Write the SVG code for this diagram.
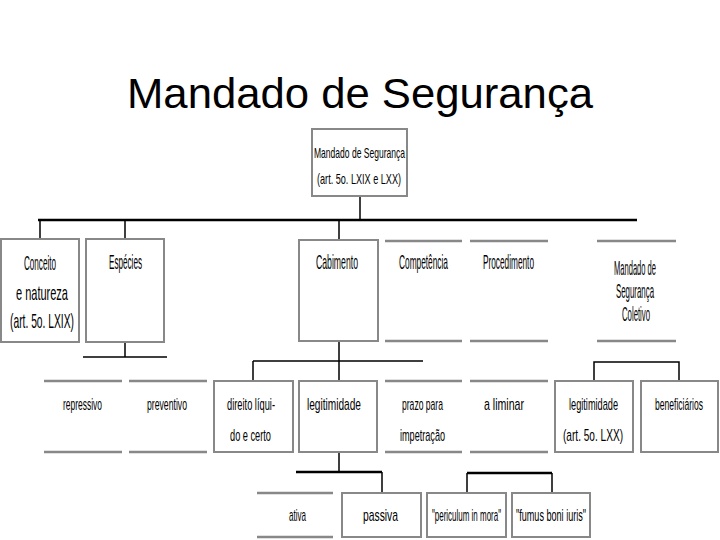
<svg xmlns="http://www.w3.org/2000/svg" width="720" height="540" viewBox="0 0 720 540">
<style>
.bx{fill:#fff;stroke:#888;stroke-width:2}
.ln{stroke:#888;stroke-width:2.5}
.c{stroke:#000;stroke-width:1.5;fill:none}
.ct{stroke:#000;stroke-width:2.5;fill:none}
text{font-family:"Liberation Sans",Arial,sans-serif;fill:#000}
.t0{font-size:15px}
.t1{font-size:21px}
.t2{font-size:17px}
.title{font-size:43px}
</style>
<rect width="720" height="540" fill="#fff"/>
<text class="title" x="127" y="108" textLength="466" lengthAdjust="spacingAndGlyphs">Mandado de Segurança</text>
<g id="connectors">
<path class="c" d="M360 197V220"/>
<path class="ct" d="M38 220H637"/>
<path class="c" d="M40 220V239M125 220V239M339 220V240"/>
<path class="c" d="M125 342V357M83 357H167"/>
<path class="c" d="M339 341V381M253 361H423M253 361V381"/>
<path class="c" d="M594 381V362H679V381"/>
<path class="c" d="M339 452V472M382 472V493"/>
<path class="ct" d="M296 472H382"/>
<path class="c" d="M467 493V473M552 473V493"/>
<path class="ct" d="M467 473H552"/>
</g>
<g id="n-root"><rect class="bx" x="312" y="129" width="95" height="67"/>
<text class="t0" x="314" y="158" textLength="91" lengthAdjust="spacingAndGlyphs">Mandado de Segurança</text>
<text class="t0" x="317" y="184" textLength="84" lengthAdjust="spacingAndGlyphs">(art. 5o. LXIX e LXX)</text></g>
<g id="n-conceito"><rect class="bx" x="1" y="239" width="78" height="103"/>
<text class="t1" x="24" y="270" textLength="32" lengthAdjust="spacingAndGlyphs">Conceito</text>
<text class="t1" x="16" y="300" textLength="52" lengthAdjust="spacingAndGlyphs">e natureza</text>
<text class="t1" x="10" y="328" textLength="64" lengthAdjust="spacingAndGlyphs">(art. 5o. LXIX)</text></g>
<g id="n-especies"><rect class="bx" x="86" y="239" width="78" height="103"/>
<text class="t1" x="109" y="269" textLength="33" lengthAdjust="spacingAndGlyphs">Espécies</text></g>
<g id="n-cabimento"><rect class="bx" x="299" y="240" width="79" height="101"/>
<text class="t1" x="316" y="269" textLength="42" lengthAdjust="spacingAndGlyphs">Cabimento</text></g>
<g id="n-competencia"><path class="ln" d="M385 241H462M385 341H462"/>
<text class="t1" x="399" y="269" textLength="49" lengthAdjust="spacingAndGlyphs">Competência</text></g>
<g id="n-procedimento"><path class="ln" d="M470 241H548M470 341H548"/>
<text class="t1" x="483" y="269" textLength="51" lengthAdjust="spacingAndGlyphs">Procedimento</text></g>
<g id="n-coletivo"><path class="ln" d="M597 241H676M597 341H676"/>
<text class="t1" x="614" y="275" textLength="42" lengthAdjust="spacingAndGlyphs">Mandado de</text>
<text class="t1" x="616" y="298" textLength="38" lengthAdjust="spacingAndGlyphs">Segurança</text>
<text class="t1" x="622" y="321" textLength="28" lengthAdjust="spacingAndGlyphs">Coletivo</text></g>
<g id="n-repressivo"><path class="ln" d="M44 381H122M44 452H122"/>
<text class="t2" x="63" y="410" textLength="39" lengthAdjust="spacingAndGlyphs">repressivo</text></g>
<g id="n-preventivo"><path class="ln" d="M129 381H207M129 452H207"/>
<text class="t2" x="147" y="410" textLength="40" lengthAdjust="spacingAndGlyphs">preventivo</text></g>
<g id="n-direito"><rect class="bx" x="214" y="381" width="79" height="71"/>
<text class="t2" x="227" y="410" textLength="48" lengthAdjust="spacingAndGlyphs">direito líqui-</text>
<text class="t2" x="230" y="441" textLength="41" lengthAdjust="spacingAndGlyphs">do e certo</text></g>
<g id="n-legitimidade"><rect class="bx" x="299" y="381" width="78" height="71"/>
<text class="t2" x="307" y="410" textLength="54" lengthAdjust="spacingAndGlyphs">legitimidade</text></g>
<g id="n-prazo"><path class="ln" d="M385 381H462M385 452H462"/>
<text class="t2" x="402" y="410" textLength="41" lengthAdjust="spacingAndGlyphs">prazo para</text>
<text class="t2" x="400" y="441" textLength="45" lengthAdjust="spacingAndGlyphs">impetração</text></g>
<g id="n-liminar"><path class="ln" d="M470 381H548M470 452H548"/>
<text class="t2" x="484" y="410" textLength="40" lengthAdjust="spacingAndGlyphs">a liminar</text></g>
<g id="n-legit-col"><rect class="bx" x="555" y="381" width="78" height="71"/>
<text class="t2" x="569" y="410" textLength="49" lengthAdjust="spacingAndGlyphs">legitimidade</text>
<text class="t2" x="563" y="441" textLength="60" lengthAdjust="spacingAndGlyphs">(art. 5o. LXX)</text></g>
<g id="n-beneficiarios"><rect class="bx" x="641" y="381" width="77" height="71"/>
<text class="t2" x="655" y="410" textLength="48" lengthAdjust="spacingAndGlyphs">beneficiários</text></g>
<g id="n-ativa"><path class="ln" d="M257 493H333M257 537H333"/>
<text class="t2" x="289" y="521" textLength="17" lengthAdjust="spacingAndGlyphs">ativa</text></g>
<g id="n-passiva"><rect class="bx" x="342" y="493" width="79" height="44"/>
<text class="t2" x="363" y="521" textLength="35" lengthAdjust="spacingAndGlyphs">passiva</text></g>
<g id="n-periculum"><rect class="bx" x="427" y="493" width="79" height="44"/>
<text class="t2" x="432" y="521" textLength="69" lengthAdjust="spacingAndGlyphs">"periculum in mora"</text></g>
<g id="n-fumus"><rect class="bx" x="512" y="493" width="78" height="44"/>
<text class="t2" x="516" y="521" textLength="70" lengthAdjust="spacingAndGlyphs">"fumus boni iuris"</text></g>
</svg>
